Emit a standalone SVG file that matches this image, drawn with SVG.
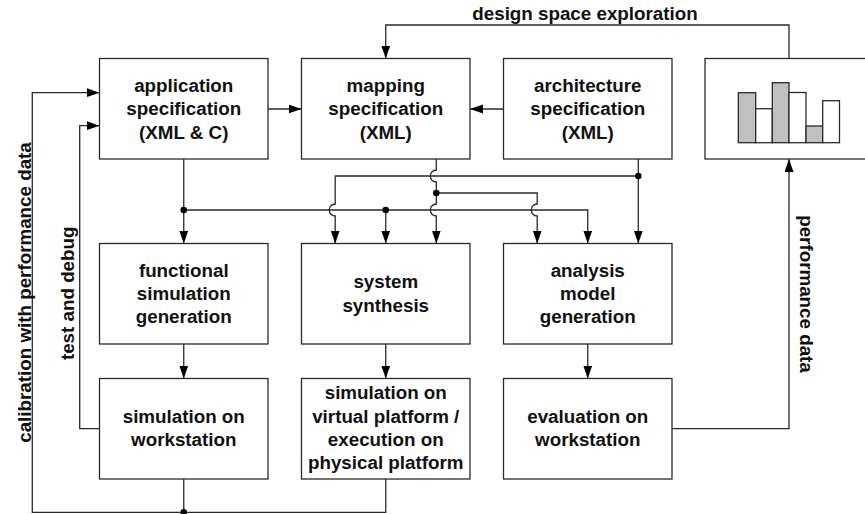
<svg xmlns="http://www.w3.org/2000/svg" width="865" height="514" viewBox="0 0 865 514">
  <style>
    .box { fill: #ffffff; stroke: #2a2a2a; stroke-width: 1.3; }
    .wire { fill: none; stroke: #2a2a2a; stroke-width: 1.3; }
    .arr { marker-end: url(#head); }
    .dot { fill: #000000; }
    .lbl { font-family: "Liberation Sans", Arial, sans-serif; font-weight: bold; font-size: 18.8px; fill: #111111; text-anchor: middle; }
    .bar-on { fill: #c0c0c0; stroke: #2a2a2a; stroke-width: 1.3; }
    .bar-off { fill: #ffffff; stroke: #2a2a2a; stroke-width: 1.3; }
  </style>
  <defs>
    <marker id="head" markerUnits="userSpaceOnUse" markerWidth="14" markerHeight="10" refX="13" refY="4.5" orient="auto">
      <path d="M0,0 L13,4.5 L0,9 Z" fill="#000000"/>
    </marker>
  </defs>

  <rect width="865" height="514" fill="#ffffff"/>

  <!-- connectors -->
  <g id="connectors">
    <!-- specification inputs into mapping -->
    <path class="wire arr" d="M268,109 H301.5"/>
    <path class="wire arr" d="M503.5,109 H470"/>
    <!-- design space exploration loop -->
    <path class="wire arr" d="M789,58.5 V25 H385.75 V58.5"/>
    <!-- performance data feedback -->
    <path class="wire arr" d="M671.5,428.7 H789 V159"/>
    <!-- application spec fan-out -->
    <path class="wire arr" d="M183.75,159 V243.5"/>
    <path class="wire arr" d="M183.75,210 H587.75 V243.5"/>
    <path class="wire arr" d="M385.75,210 V243.5"/>
    <!-- architecture spec fan-out -->
    <path class="wire arr" d="M638.3,176 H335.2 V204 A6 6 0 0 0 335.2,216 V243.5"/>
    <path class="wire arr" d="M638.3,159 V243.5"/>
    <!-- mapping spec fan-out -->
    <path class="wire arr" d="M436.3,159 V170 A6 6 0 0 0 436.3,182 V204 A6 6 0 0 0 436.3,216 V243.5"/>
    <path class="wire arr" d="M436.3,193 H537.2 V204 A6 6 0 0 0 537.2,216 V243.5"/>
    <!-- generation to execution -->
    <path class="wire arr" d="M183.75,344 V378.5"/>
    <path class="wire arr" d="M385.75,344 V378.5"/>
    <path class="wire arr" d="M587.75,344 V378.5"/>
    <!-- test and debug loop -->
    <path class="wire arr" d="M99.5,428.7 H79.7 V125.7 H99.5"/>
    <!-- calibration loop -->
    <path class="wire" d="M183.75,479 V512.3"/>
    <path class="wire arr" d="M385.75,479 V512.3 H32.3 V92.7 H99.5"/>
    <!-- junctions -->
    <circle class="dot" cx="183.75" cy="210" r="3.3"/>
    <circle class="dot" cx="385.75" cy="210" r="3.3"/>
    <circle class="dot" cx="638.3" cy="176" r="3.3"/>
    <circle class="dot" cx="436.3" cy="193" r="3.3"/>
    <circle class="dot" cx="183.75" cy="512.3" r="3.3"/>
  </g>

  <!-- loop labels -->
  <text class="lbl" x="585" y="19.5">design space exploration</text>
  <text class="lbl" transform="translate(31,292.5) rotate(-90)">calibration with performance data</text>
  <text class="lbl" transform="translate(74,293.3) rotate(-90)">test and debug</text>
  <text class="lbl" transform="translate(800,294) rotate(90)">performance data</text>

  <!-- specification row -->
  <g id="app-spec">
    <rect class="box" x="99.5" y="58.5" width="168.5" height="100.5"/>
    <text class="lbl" x="183.75" y="92">application</text>
    <text class="lbl" x="183.75" y="115.3">specification</text>
    <text class="lbl" x="183.75" y="138.6">(XML &amp; C)</text>
  </g>
  <g id="mapping-spec">
    <rect class="box" x="301.5" y="58.5" width="168.5" height="100.5"/>
    <text class="lbl" x="385.75" y="92">mapping</text>
    <text class="lbl" x="385.75" y="115.3">specification</text>
    <text class="lbl" x="385.75" y="138.6">(XML)</text>
  </g>
  <g id="arch-spec">
    <rect class="box" x="503.5" y="58.5" width="168.5" height="100.5"/>
    <text class="lbl" x="587.75" y="92">architecture</text>
    <text class="lbl" x="587.75" y="115.3">specification</text>
    <text class="lbl" x="587.75" y="138.6">(XML)</text>
  </g>
  <g id="results-chart">
    <rect class="box" x="705" y="58.5" width="170" height="100.5"/>
    <rect class="bar-on" x="738.3" y="92.7" width="17.4" height="50"/>
    <rect class="bar-off" x="755.7" y="108.7" width="16.6" height="34"/>
    <rect class="bar-on" x="772.3" y="82.7" width="16.7" height="60"/>
    <rect class="bar-off" x="789" y="92.5" width="17" height="50.2"/>
    <rect class="bar-on" x="806" y="126" width="16.7" height="16.7"/>
    <rect class="bar-off" x="822.7" y="100.7" width="16.8" height="42"/>
  </g>

  <!-- generation row -->
  <g id="func-sim-gen">
    <rect class="box" x="99.5" y="243.5" width="168.5" height="100.5"/>
    <text class="lbl" x="183.75" y="276.7">functional</text>
    <text class="lbl" x="183.75" y="300">simulation</text>
    <text class="lbl" x="183.75" y="323.3">generation</text>
  </g>
  <g id="sys-synth">
    <rect class="box" x="301.5" y="243.5" width="168.5" height="100.5"/>
    <text class="lbl" x="385.75" y="288.3">system</text>
    <text class="lbl" x="385.75" y="311.6">synthesis</text>
  </g>
  <g id="analysis-gen">
    <rect class="box" x="503.5" y="243.5" width="168.5" height="100.5"/>
    <text class="lbl" x="587.75" y="276.7">analysis</text>
    <text class="lbl" x="587.75" y="300">model</text>
    <text class="lbl" x="587.75" y="323.3">generation</text>
  </g>

  <!-- execution row -->
  <g id="sim-workstation">
    <rect class="box" x="99.5" y="378.5" width="168.5" height="100.5"/>
    <text class="lbl" x="183.75" y="422.7">simulation on</text>
    <text class="lbl" x="183.75" y="446">workstation</text>
  </g>
  <g id="sim-platform">
    <rect class="box" x="301.5" y="378.5" width="168.5" height="100.5"/>
    <text class="lbl" x="385.75" y="399.3">simulation on</text>
    <text class="lbl" x="385.75" y="422.6">virtual platform /</text>
    <text class="lbl" x="385.75" y="445.9">execution on</text>
    <text class="lbl" x="385.75" y="469.2">physical platform</text>
  </g>
  <g id="eval-workstation">
    <rect class="box" x="503.5" y="378.5" width="168.5" height="100.5"/>
    <text class="lbl" x="587.75" y="422.7">evaluation on</text>
    <text class="lbl" x="587.75" y="446">workstation</text>
  </g>
</svg>
